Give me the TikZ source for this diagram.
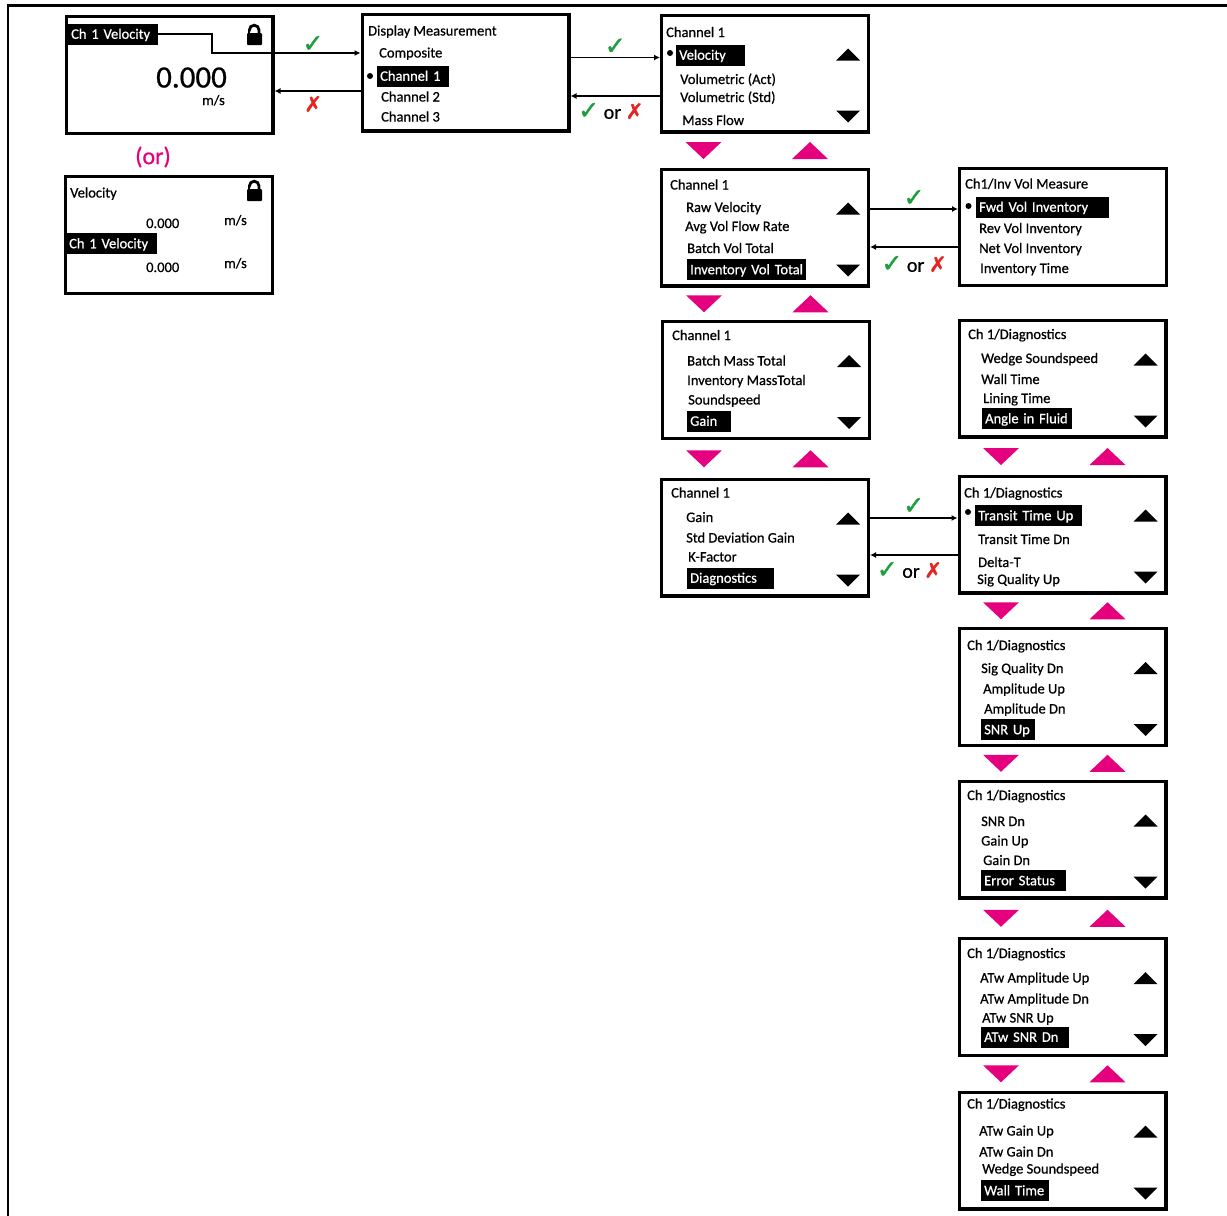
\documentclass[tikz,border=0pt]{standalone}
\usepackage{fontspec}
\setmainfont{Carlito}[FakeBold=0.7]
\newfontfamily\symfont{DejaVu Sans}[FakeBold=1.5]
\usetikzlibrary{arrows.meta,calc}
\definecolor{okgreen}{HTML}{1E9E3E}
\definecolor{nored}{HTML}{E52521}
\definecolor{navpink}{HTML}{E5007E}

\begin{document}
\begin{tikzpicture}[x=1pt,y=-1pt,
        screen/.style={draw, line width=3.2pt, minimum width=206.8pt, minimum height=116.8pt, inner sep=0pt},
        txt/.style={anchor=base west, inner sep=0pt, font=\fontsize{14.5}{17}\selectfont},
        sel/.style={anchor=west, fill=black, text=white, inner xsep=3pt, inner ysep=0pt, text height=12pt, text depth=2.5pt, minimum height=21pt, align=left, font=\fontsize{14.5}{17}\selectfont},
        nav/.style={-{Latex[length=6pt,width=6pt]}, line width=1.2pt},
        ok/.style={font=\symfont\fontsize{25}{25}\selectfont, text=okgreen, inner sep=0pt},
        okno/.style={font=\fontsize{20}{20}\selectfont, inner sep=0pt},
        padlock/.pic={
            \fill[rounded corners=1pt] (0,0) rectangle (15,12);
            \draw[line width=2.8pt] (12,1) -- (12,-3) arc[start angle=0,end angle=-180,radius=4.8] -- (2.4,-4.2);
        }]
        \useasboundingbox (0,0) rectangle (1227,1216);
        \draw[line width=2.6pt] (8,1220) -- (8,5.5) -- (1230,5.5);

        \node[screen] (a) at (169.5,75) {};
        \node[screen] (b) at (169,235) {};
        \node[screen] (c) at (465.5,72.5) {};
        \node[screen] (d) at (765,73.5) {};
        \node[screen] (e) at (765,227.5) {};
        \node[screen] (f) at (1063,227) {};
        \node[screen] (g) at (766,380) {};
        \node[screen] (h) at (1062.5,378.5) {};
        \node[screen] (i) at (765,537.5) {};
        \node[screen] (j) at (1062.5,534.5) {};
        \node[screen] (k) at (1062.5,687) {};
        \node[screen] (l) at (1062.5,839.5) {};
        \node[screen] (m) at (1062.5,997) {};
        \node[screen] (n) at (1062.5,1150.5) {};

        \node[sel, text width=84pt] (asel) at (68,34) {Ch 1 Velocity};
        \node[txt, text depth=0pt, font=\fontsize{31}{31}\selectfont] (aval) at (156,87.5) {0.000};
        \node[txt, text height=8pt] (aunit) at (202,105) {m/s};
        \pic at (247,33) {padlock};

        \node[text=navpink, font=\fontsize{24}{24}\selectfont, inner sep=0pt] (or) at (153,157) {(or)};

        \node[txt] (b1) at (70,197.5) {Velocity};
        \node[txt] (b2) at (146,228) {0.000};
        \node[txt] (b3) at (224,225) {m/s};
        \node[sel, text width=85pt] (bsel) at (66,243.5) {Ch 1 Velocity};
        \node[txt] (b4) at (146,272) {0.000};
        \node[txt] (b5) at (224,268) {m/s};
        \pic at (247,189) {padlock};

        \node[txt] (c1) at (368,35.5) {Display Measurement};
        \node[txt] (c2) at (379,57.5) {Composite};
        \node[sel, text width=66pt] (csel) at (377,76) {Channel 1};
        \node[txt] (c3) at (381,101.5) {Channel 2};
        \node[txt] (c4) at (381,121.5) {Channel 3};
        \fill (370,76) circle[radius=3];

        \node[txt] (d1) at (666,37) {Channel 1};
        \node[sel, text width=63pt] (dsel) at (676,55) {Velocity};
        \node[txt] (d2) at (680,84) {Volumetric (Act)};
        \node[txt] (d3) at (680,102) {Volumetric (Std)};
        \node[txt] (d4) at (682,125) {Mass Flow};
        \fill (670,53) circle[radius=3];

        \node[txt] (e1) at (670,189.5) {Channel 1};
        \node[txt] (e2) at (686,212) {Raw Velocity};
        \node[txt] (e3) at (685,231) {Avg Vol Flow Rate};
        \node[txt] (e4) at (687,253) {Batch Vol Total};
        \node[sel, text width=113pt] (esel) at (687,269.5) {Inventory Vol Total};

        \node[txt] (f1) at (965,188.5) {Ch1/Inv Vol Measure};
        \node[sel, text width=127pt] (fsel) at (976,207) {Fwd Vol Inventory};
        \node[txt] (f2) at (979,233) {Rev Vol Inventory};
        \node[txt] (f3) at (979,253) {Net Vol Inventory};
        \node[txt] (f4) at (980,273) {Inventory Time};
        \fill (968.5,206) circle[radius=3];

        \node[txt] (g1) at (672,340) {Channel 1};
        \node[txt] (g2) at (687,365.5) {Batch Mass Total};
        \node[txt] (g3) at (687,385) {Inventory MassTotal};
        \node[txt] (g4) at (688,404.5) {Soundspeed};
        \node[sel, text width=38pt] (gsel) at (687,421) {Gain};

        \node[txt] (h1) at (968,339) {Ch 1/Diagnostics};
        \node[txt] (h2) at (981,363) {Wedge Soundspeed};
        \node[txt] (h3) at (981,384) {Wall Time};
        \node[txt] (h4) at (983,403) {Lining Time};
        \node[sel, text width=84pt] (hsel) at (982,418.5) {Angle in Fluid};

        \node[txt] (i1) at (671,497.5) {Channel 1};
        \node[txt] (i2) at (686,522) {Gain};
        \node[txt] (i3) at (686,542.5) {Std Deviation Gain};
        \node[txt] (i4) at (688,561.5) {K-Factor};
        \node[sel, text width=81pt] (isel) at (687,578) {Diagnostics};

        \node[txt] (j1) at (964,497.5) {Ch 1/Diagnostics};
        \node[sel, text width=101pt] (jsel) at (975,515.5) {Transit Time Up};
        \node[txt] (j2) at (978,544) {Transit Time Dn};
        \node[txt] (j3) at (978,567) {Delta-T};
        \node[txt] (j4) at (977,584) {Sig Quality Up};
        \fill (968,512) circle[radius=3];

        \node[txt] (k1) at (967,650) {Ch 1/Diagnostics};
        \node[txt] (k2) at (981,673) {Sig Quality Dn};
        \node[txt] (k3) at (983,693.5) {Amplitude Up};
        \node[txt] (k4) at (984,713.5) {Amplitude Dn};
        \node[sel, text width=48pt] (ksel) at (981,729.5) {SNR Up};

        \node[txt] (l1) at (967,800) {Ch 1/Diagnostics};
        \node[txt] (l2) at (981,826) {SNR Dn};
        \node[txt] (l3) at (981,845.5) {Gain Up};
        \node[txt] (l4) at (983,865) {Gain Dn};
        \node[sel, text width=79pt] (lsel) at (981,880.5) {Error Status};

        \node[txt] (m1) at (967,958) {Ch 1/Diagnostics};
        \node[txt] (m2) at (980,982.5) {ATw Amplitude Up};
        \node[txt] (m3) at (980,1003.5) {ATw Amplitude Dn};
        \node[txt] (m4) at (982,1022.5) {ATw SNR Up};
        \node[sel, text width=82pt] (msel) at (981,1037) {ATw SNR Dn};

        \node[txt] (n1) at (967,1108.5) {Ch 1/Diagnostics};
        \node[txt] (n2) at (979,1135.5) {ATw Gain Up};
        \node[txt] (n3) at (979,1156.5) {ATw Gain Dn};
        \node[txt] (n4) at (982,1173.5) {Wedge Soundspeed};
        \node[sel, text width=62pt] (nsel) at (981,1190.5) {Wall Time};

        \foreach \s in {d,e,g,i,h,j,k,l,m,n}{
            \fill ($(\s.center)+(83,-19)$) ++(-12,6) -- ++(24,0) -- ++(-12,-12) -- cycle;
            \fill ($(\s.center)+(83,43)$) ++(-12,-6) -- ++(24,0) -- ++(-12,12) -- cycle;
        }
        \foreach \p/\q in {d/e,e/g,g/i,h/j,j/k,k/l,l/m,m/n}{
            \fill[navpink] ($(\p.south)!.5!(\q.north)+(-61.5,0)$) ++(-18,-8.5) -- ++(36,0) -- ++(-18,17) -- cycle;
            \fill[navpink] ($(\p.south)!.5!(\q.north)+(45,0)$) ++(-18,8.5) -- ++(36,0) -- ++(-18,-17) -- cycle;
        }

        \draw[nav] (asel.east) -| (212,53) -- (c.west |- 0,53) node[ok, pos=.68, yshift=9pt] (ok1) {✓};
        \draw[nav] (c.west |- 0,91) -- (a.east |- 0,91) node[pos=.55, yshift=-13pt, inner sep=0pt, text=nored, font=\symfont\fontsize{21}{21}\selectfont] (no1) {✗};
        \draw[nav] (c.east |- 0,57.5) -- (d.west |- 0,57.5) node[ok, midway, yshift=11pt] (ok2) {✓};
        \draw[nav] (d.west |- 0,96) -- (c.east |- 0,96) node[okno, pos=.55, yshift=-15pt] (okno1) {{\symfont\fontsize{25}{25}\selectfont\color{okgreen}✓} or {\symfont\fontsize{21}{21}\selectfont\color{nored}✗}};
        \draw[nav] (e.east |- 0,209) -- (f.west |- 0,209) node[ok, midway, yshift=11pt] (ok3) {✓};
        \draw[nav] (f.west |- 0,247) -- (e.east |- 0,247) node[okno, midway, yshift=-17pt] (okno2) {{\symfont\fontsize{25}{25}\selectfont\color{okgreen}✓} or {\symfont\fontsize{21}{21}\selectfont\color{nored}✗}};
        \draw[nav] (i.east |- 0,518) -- (j.west |- 0,518) node[ok, midway, yshift=12pt] (ok4) {✓};
        \draw[nav] (j.west |- 0,555) -- (i.east |- 0,555) node[okno, pos=.55, yshift=-15pt] (okno3) {{\symfont\fontsize{25}{25}\selectfont\color{okgreen}✓} or {\symfont\fontsize{21}{21}\selectfont\color{nored}✗}};
    \end{tikzpicture}
\end{document}
